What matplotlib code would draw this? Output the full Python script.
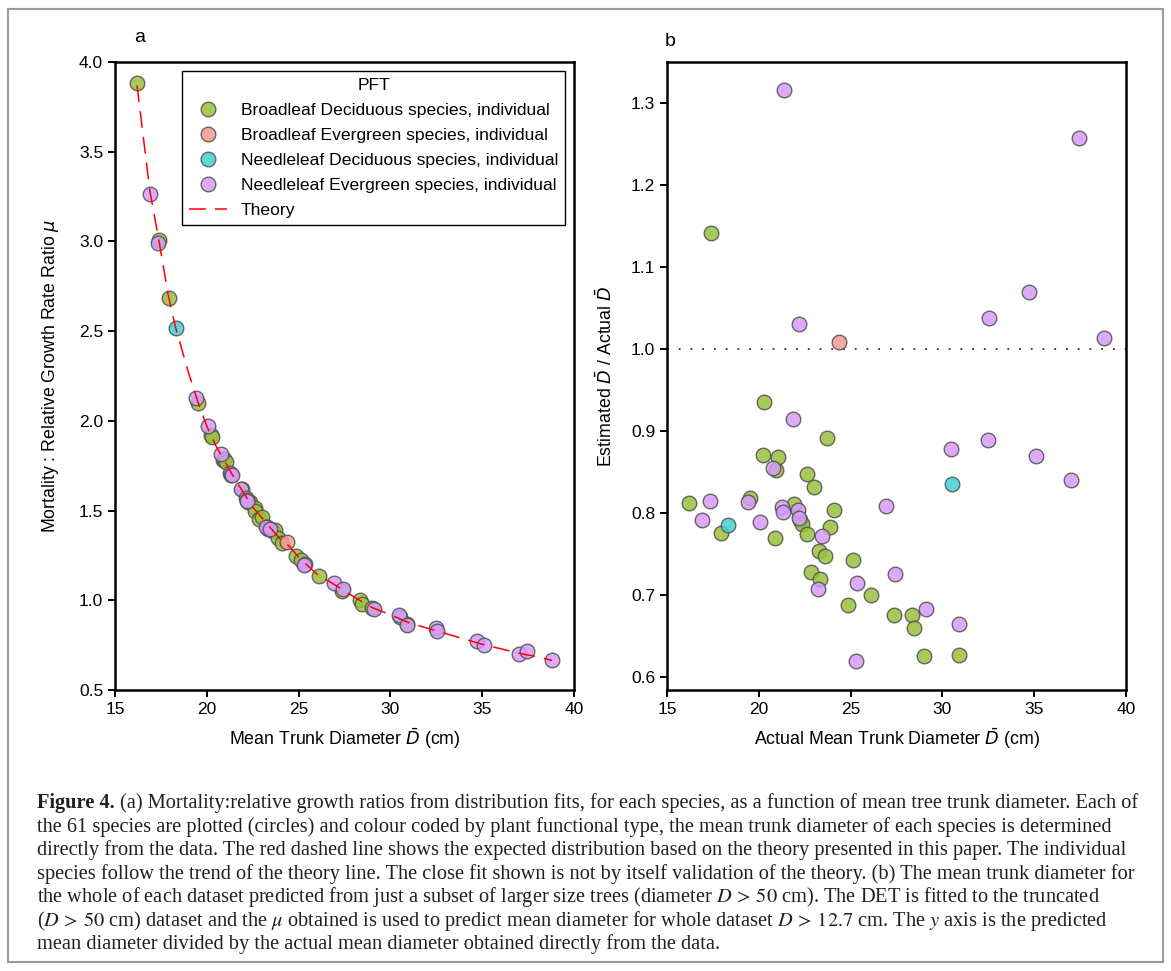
import numpy as np
import matplotlib.pyplot as plt
from matplotlib.patches import Rectangle
from matplotlib.lines import Line2D

plt.rcParams['font.family'] = ['Liberation Sans', 'DejaVu Sans']

# 每个物种: 平均胸径 D, mu, 估计D/实际D
bd_D = [16.22, 17.42, 17.93, 19.53, 20.22, 20.30, 20.87, 20.94, 21.04, 21.92,
        22.22, 22.33, 22.62, 22.62, 22.86, 23.01, 23.30, 23.34, 23.63, 23.72,
        23.88, 24.11, 24.84, 25.13, 26.09, 27.36, 28.32, 28.45, 28.98, 30.90]
bd_mu = [3.885, 3.008, 2.682, 2.100, 1.920, 1.910, 1.780, 1.788, 1.770, 1.620,
         1.545, 1.550, 1.512, 1.500, 1.455, 1.465, 1.410, 1.400, 1.385, 1.390,
         1.345, 1.322, 1.245, 1.225, 1.135, 1.050, 1.002, 0.982, 0.955, 0.868]
bd_ratio = [0.812, 1.141, 0.775, 0.818, 0.871, 0.935, 0.770, 0.852, 0.868, 0.811,
            0.791, 0.786, 0.848, 0.774, 0.728, 0.832, 0.754, 0.720, 0.748, 0.891,
            0.783, 0.804, 0.688, 0.743, 0.700, 0.675, 0.675, 0.660, 0.626, 0.627]

be_D = [24.38]
be_mu = [1.325]
be_ratio = [1.009]

nd_D = [18.31, 30.50]
nd_mu = [2.515, 0.905]
nd_ratio = [0.785, 0.835]

ne_D = [16.92, 17.35, 19.42, 20.06, 20.75, 21.27, 21.32, 21.39, 21.85, 22.16,
        22.19, 22.21, 23.24, 23.45, 25.33, 25.28, 26.91, 27.40, 29.10, 30.46,
        30.93, 32.50, 32.55, 34.74, 35.10, 37.03, 37.42, 38.80]
ne_mu = [3.266, 2.990, 2.125, 1.972, 1.814, 1.710, 1.700, 1.700, 1.620, 1.570,
         1.560, 1.552, 1.410, 1.398, 1.205, 1.198, 1.097, 1.065, 0.953, 0.917,
         0.865, 0.848, 0.830, 0.771, 0.750, 0.700, 0.717, 0.665]
ne_ratio = [0.791, 0.814, 0.813, 0.789, 0.855, 0.807, 0.801, 1.316, 0.915, 0.803,
            1.030, 0.794, 0.707, 0.772, 0.715, 0.619, 0.808, 0.726, 0.683, 0.878,
            0.664, 0.889, 1.038, 1.069, 0.869, 0.840, 1.257, 1.013]

# 理论曲线
theory_D = [16.2, 16.9, 17.4, 17.9, 18.3, 19.0, 19.5, 20.0, 20.5, 21.0, 21.5,
            22.0, 22.5, 23.0, 23.5, 24.0, 24.5, 25.0, 26.0, 27.0, 28.0, 29.0,
            30.0, 31.0, 32.0, 33.0, 34.0, 35.0, 36.0, 37.0, 38.0, 38.8]
theory_mu = [3.87, 3.28, 3.00, 2.70, 2.52, 2.27, 2.11, 1.97, 1.86, 1.77, 1.68,
             1.60, 1.52, 1.46, 1.40, 1.34, 1.30, 1.24, 1.145, 1.085, 1.02, 0.96,
             0.92, 0.875, 0.845, 0.815, 0.785, 0.755, 0.73, 0.705, 0.685, 0.665]

labels = ['Broadleaf Deciduous species, individual',
          'Broadleaf Evergreen species, individual',
          'Needleleaf Deciduous species, individual',
          'Needleleaf Evergreen species, individual']
colors = ['#98c13d', '#f79a90', '#3fd0d4', '#d69bf8']

groups = [(bd_D, bd_mu, bd_ratio), (be_D, be_mu, be_ratio),
          (nd_D, nd_mu, nd_ratio), (ne_D, ne_mu, ne_ratio)]

W, H = 1171, 971
fig = plt.figure(figsize=(W / 100, H / 100), dpi=100)
ax1 = fig.add_axes([115 / W, 1 - 690 / H, 459 / W, 628 / H])
ax2 = fig.add_axes([667 / W, 1 - 690 / H, 459 / W, 628 / H])

handles = []
for (d, mu, r), lab, c in zip(groups, labels, colors):
    ax1.scatter(d, mu, s=110, c=c, edgecolors='#505050', linewidths=1.0,
                alpha=0.85, zorder=2)
    ax2.scatter(d, r, s=110, c=c, edgecolors='#505050', linewidths=1.0,
                alpha=0.85, zorder=2)
    handles.append(Line2D([], [], ls='none', marker='o', markersize=10.5,
                          markerfacecolor=c, markeredgecolor='#505050',
                          markeredgewidth=1.0, alpha=0.85, label=lab))

ln, = ax1.plot(theory_D, theory_mu, color='red', lw=1.1, dashes=(11, 6),
               zorder=3, label='Theory')
handles.append(ln)

ax1.set_xlim(15, 40)
ax1.set_ylim(0.5, 4.0)
ax1.set_yticks(np.arange(0.5, 4.01, 0.5))
ax1.set_xlabel(r'Mean Trunk Diameter $\bar{D}$ (cm)', fontsize=12.8, labelpad=7)
ax1.set_ylabel(r'Mortality : Relative Growth Rate Ratio $\mu$', fontsize=12.8, labelpad=13)
leg = ax1.legend(handles=handles, title='PFT', loc='upper right', fontsize=12.6,
                 title_fontsize=12.6, frameon=True, fancybox=False, framealpha=1,
                 edgecolor='black', borderaxespad=0.5, handlelength=2.15,
                 labelspacing=0.56)
leg.get_frame().set_linewidth(1.0)

ax2.axhline(1.0, color='#333333', lw=1.3, dashes=(1, 5.5), zorder=1)
ax2.set_xlim(15, 40)
ax2.set_ylim(0.584, 1.35)
ax2.set_yticks(np.arange(0.6, 1.31, 0.1))
ax2.set_xlabel(r'Actual Mean Trunk Diameter $\bar{D}$ (cm)', fontsize=12.8, labelpad=7)
ax2.set_ylabel(r'Estimated $\bar{D}$ / Actual $\bar{D}$', fontsize=12.8, labelpad=11)

for ax in (ax1, ax2):
    ax.set_xticks(np.arange(15, 41, 5))
    ax.tick_params(direction='out', length=5, width=1.4, labelsize=12.5)
    for sp in ax.spines.values():
        sp.set_linewidth(1.8)

fig.text(140 / W, 1 - 38 / H, 'a', fontsize=14, ha='center', va='center')
fig.text(670 / W, 1 - 42 / H, 'b', fontsize=14, ha='center', va='center')

# 图注
cap = [
    r'(a) Mortality:relative growth ratios from distribution fits, for each species, as a function of mean tree trunk diameter. Each of',
    r'the 61 species are plotted (circles) and colour coded by plant functional type, the mean trunk diameter of each species is determined',
    r'directly from the data. The red dashed line shows the expected distribution based on the theory presented in this paper. The individual',
    r'species follow the trend of the theory line. The close fit shown is not by itself validation of the theory. (b) The mean trunk diameter for',
    r'the whole of each dataset predicted from just a subset of larger size trees (diameter $D\,>\,50$ cm). The DET is fitted to the truncated',
    r'($D\,>\,50$ cm) dataset and the $\mu$ obtained is used to predict mean diameter for whole dataset $D\,>\,12.7$ cm. The $y$ axis is the predicted',
    r'mean diameter divided by the actual mean diameter obtained directly from the data.',
]
x0 = 37 / W
fs = 14.7
for i, line in enumerate(cap):
    yb = 1 - (808 + 23.55 * i) / H
    if i == 0:
        b = fig.text(x0, yb, 'Figure 4.', fontsize=fs, family='Liberation Serif',
                     weight='bold', va='baseline', color='#231f20')
        ax1.annotate(line, xy=(1, 0), xycoords=b, xytext=(4, 0),
                     textcoords='offset points', va='bottom', ha='left',
                     fontsize=fs, family='Liberation Serif', math_fontfamily='stix',
                     color='#231f20', annotation_clip=False)
    else:
        fig.text(x0, yb, line, fontsize=fs, family='Liberation Serif',
                 math_fontfamily='stix', va='baseline', color='#231f20')

fig.patches.append(Rectangle((8 / W, 9 / H), 1155 / W, 953 / H, transform=fig.transFigure,
                             fill=False, edgecolor='#9a9a9a', lw=1.5))

fig.savefig('out.png', dpi=100)
